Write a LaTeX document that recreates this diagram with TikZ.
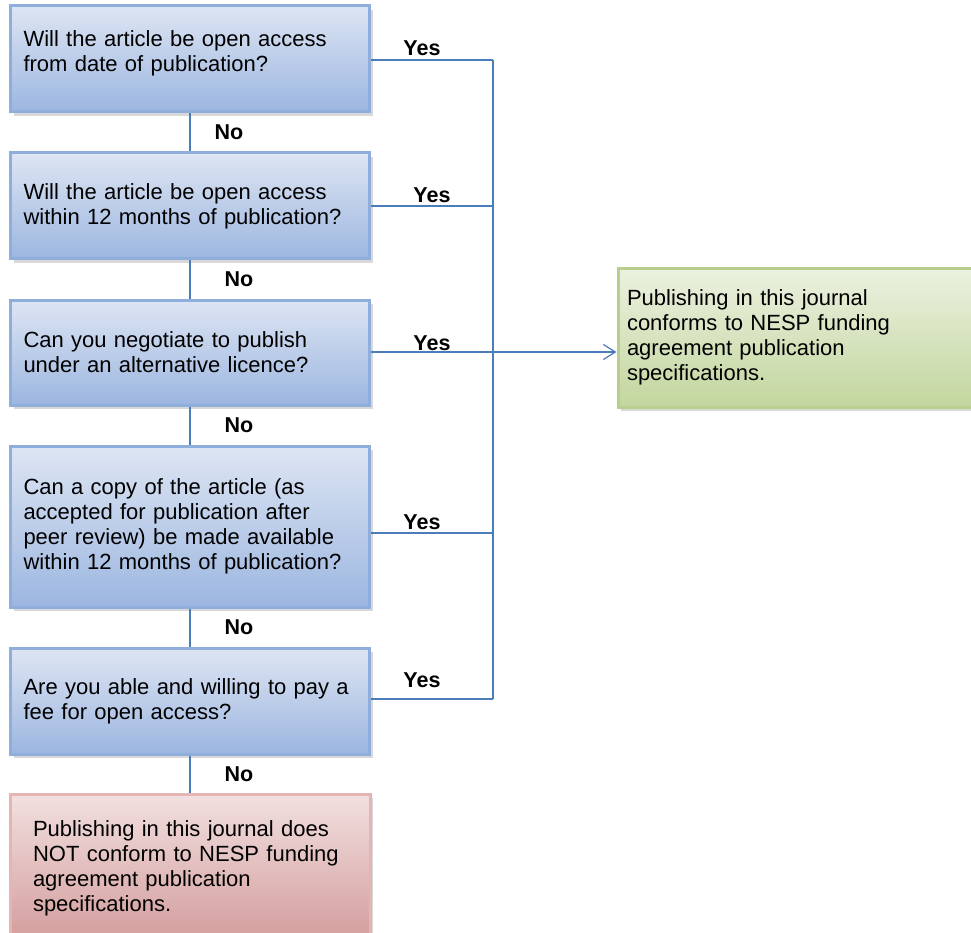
\documentclass[tikz,border=0pt]{standalone}
\usepackage{fontspec}
\setmainfont{Liberation Sans}
\usetikzlibrary{shadows,arrows.meta}
\definecolor{bluetop}{HTML}{DDE5F3}
\definecolor{bluebot}{HTML}{9CB6E0}
\definecolor{blueedge}{HTML}{8FAEDB}
\definecolor{greentop}{HTML}{EBF1E0}
\definecolor{greenbot}{HTML}{C3D69E}
\definecolor{greenedge}{HTML}{B7CE8C}
\definecolor{redtop}{HTML}{F2E0E0}
\definecolor{redbot}{HTML}{D39C9C}
\definecolor{rededge}{HTML}{E5B5B5}
\definecolor{linkblue}{HTML}{4A7EBB}
\tikzset{
  qbox/.style={rectangle, draw=blueedge, line width=3pt,
    top color=bluetop, bottom color=bluebot,
    drop shadow={shadow xshift=3pt, shadow yshift=-4pt, opacity=0.3},
    minimum width=359pt, inner xsep=13pt, text width=333pt, align=left,
    font=\fontsize{22}{25}\selectfont},
  okbox/.style={qbox, draw=greenedge, top color=greentop, bottom color=greenbot,
    minimum width=360pt, inner xsep=9pt, text width=342pt},
  nobox/.style={qbox, draw=rededge, top color=redtop, bottom color=redbot,
    minimum width=360pt, inner xsep=23pt, text width=314pt},
  lbl/.style={font=\fontsize{21.5}{24}\selectfont\bfseries, inner sep=0pt},
  link/.style={draw=linkblue, line width=1.2pt},
}
\begin{document}
\begin{tikzpicture}[x=1pt,y=1pt]
\useasboundingbox (0,0) rectangle (971,-933);
\clip (0,0) rectangle (971,-933);
\fill[white] (0,0) rectangle (971,-933);

\node[qbox, minimum height=106pt] (b1) at (190,-59)
  {Will the article be open access\\from date of publication?\\[-10pt]\mbox{}};
\node[qbox, minimum height=106pt] (b2) at (190,-206)
  {Will the article be open access\\within 12 months of publication?};
\node[qbox, minimum height=105pt] (b3) at (190,-352.5)
  {Can you negotiate to publish\\under an alternative licence?};
\node[qbox, minimum height=161pt] (b4) at (190,-526.5)
  {Can a copy of the article (as\\accepted for publication after\\peer review) be made available\\within 12 months of publication?};
\node[qbox, minimum height=106pt] (b5) at (190,-701)
  {Are you able and willing to pay a\\fee for open access?};
\node[nobox, minimum height=148pt] (fail) at (190,-868)
  {Publishing in this journal does\\NOT conform to NESP funding\\agreement publication\\specifications.};
\node[okbox, minimum height=139pt] (pass) at (798,-337.5)
  {Publishing in this journal\\conforms to NESP funding\\agreement publication\\specifications.};

% No connectors
\draw[link] (b1) -- node[lbl, midway, xshift=39pt] (no1) {No} (b2);
\draw[link] (b2) -- node[lbl, midway, xshift=49pt] (no2) {No} (b3);
\draw[link] (b3) -- node[lbl, midway, xshift=49pt] (no3) {No} (b4);
\draw[link] (b4) -- node[lbl, midway, xshift=49pt] (no4) {No} (b5);
\draw[link] (b5) -- node[lbl, midway, xshift=49pt] (no5) {No} (fail);

% Yes connectors
\coordinate (j1) at (493,-60);
\coordinate (j2) at (493,-206);
\coordinate (j3) at (493,-352);
\coordinate (j4) at (493,-533);
\coordinate (j5) at (493,-699);
\draw[link] (b1.east |- j1) -- (j1);
\draw[link] (b2.east |- j2) -- (j2);
\draw[link] (b3.east |- j3) -- (j3);
\draw[link] (b4.east |- j4) -- (j4);
\draw[link] (b5.east |- j5) -- (j5);
\draw[link] (j1) -- (j5);
\draw[link, -{Straight Barb[length=12pt, width=15pt, line width=1.2pt]}] (j3) -- (pass.west |- j3);

\node[lbl] (y1) at (422,-48) {Yes};
\node[lbl] (y2) at (432,-195) {Yes};
\node[lbl] (y3) at (432,-343) {Yes};
\node[lbl] (y4) at (422,-522) {Yes};
\node[lbl] (y5) at (422,-680) {Yes};
\end{tikzpicture}
\end{document}
